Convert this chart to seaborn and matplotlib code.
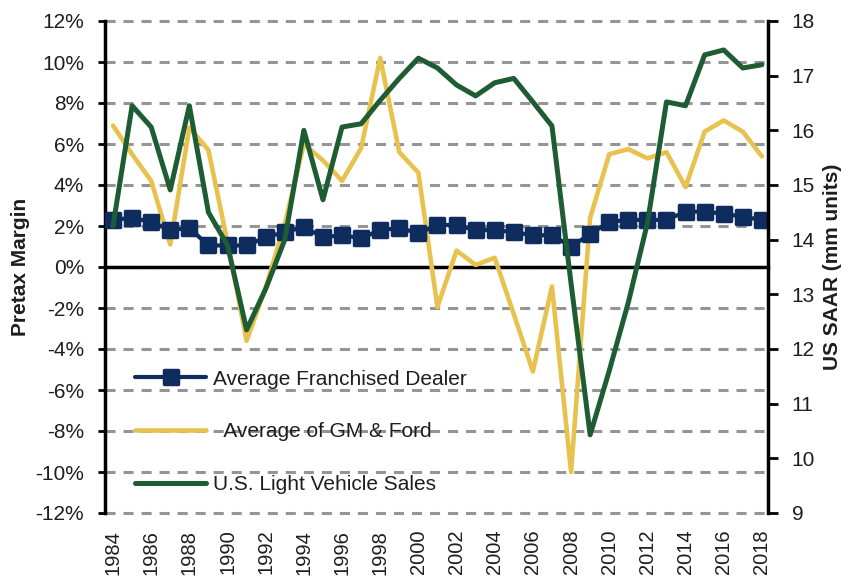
import matplotlib
matplotlib.use("Agg")
import matplotlib.pyplot as plt
import numpy as np
import pandas as pd
import seaborn as sns
from matplotlib.ticker import FuncFormatter
from matplotlib.markers import MarkerStyle

# ---------------- data ----------------
years = list(range(1984, 2019))
dealer_margin = [2.3, 2.4, 2.2, 1.8, 1.9, 1.05, 1.05, 1.05, 1.45, 1.7,
                 1.95, 1.45, 1.55, 1.4, 1.8, 1.9, 1.65, 2.05, 2.05, 1.8,
                 1.8, 1.7, 1.55, 1.55, 1.0, 1.6, 2.2, 2.3, 2.3, 2.3,
                 2.7, 2.7, 2.6, 2.45, 2.3]
gm_ford_margin = [6.9, 5.5, 4.2, 1.1, 6.8, 5.7, 1.2, -3.6, -1.0, 2.1,
                  6.0, 5.2, 4.2, 5.8, 10.2, 5.6, 4.6, -1.95, 0.8, 0.1,
                  0.45, -2.3, -5.1, -0.95, -10.0, 2.4, 5.5, 5.75, 5.3, 5.6,
                  3.9, 6.6, 7.15, 6.6, 5.4]
us_sales = [14.25, 16.45, 16.06, 14.91, 16.45, 14.5, 13.9, 12.35, 13.1, 14.0,
            16.0, 14.73, 16.06, 16.12, 16.55, 16.95, 17.32, 17.14, 16.83, 16.63,
            16.87, 16.95, 16.52, 16.08, 13.2, 10.43, 11.6, 12.85, 14.3, 16.52,
            16.45, 17.38, 17.47, 17.14, 17.2]

left_ticks = list(range(-12, 13, 2))
right_ticks = list(range(9, 19))
year_labels = list(range(1984, 2019, 2))

label_dealer = "Average Franchised Dealer"
label_gm = "  Average of GM & Ford"
label_sales = "U.S. Light Vehicle Sales"
ylabel_left = "Pretax Margin"
ylabel_right = "US SAAR (mm units)"

# ---------------- style ----------------
sns.set_style("white")
plt.rcParams['font.family'] = ['Liberation Sans', 'DejaVu Sans']
plt.rcParams['axes.unicode_minus'] = False

NAVY = '#0E2D5E'
GOLD = '#E8C24E'
GREEN = '#1E5C33'
GRID = '#959595'
TXT = '#1e1e1e'

df = pd.DataFrame({'year': years, 'dealer': dealer_margin,
                   'gm': gm_ford_margin, 'sales': us_sales})

fig = plt.figure(figsize=(8.53, 5.76), dpi=100)
ax = fig.add_axes([105/853, 1 - 513/576, 663/853, 492/576])
ax2 = ax.twinx()

sns.lineplot(data=df, x='year', y='gm', ax=ax, color=GOLD, lw=3.3,
             label=label_gm, zorder=3)
sns.lineplot(data=df, x='year', y='dealer', ax=ax, color=NAVY, lw=3,
             marker=MarkerStyle('s', joinstyle='round'), markersize=10,
             markeredgecolor=NAVY, markeredgewidth=2.5,
             label=label_dealer, zorder=4)
sns.lineplot(data=df, x='year', y='sales', ax=ax2, color=GREEN, lw=3.6,
             label=label_sales, zorder=3)

# ---------------- axes ----------------
ax.set_xlim(1983.58, 2018.32)
ax.set_ylim(-12, 12)
ax2.set_ylim(9, 18)

ax.set_yticks(left_ticks)
ax.yaxis.set_major_formatter(FuncFormatter(lambda v, p: f"{int(round(v))}%"))
ax.yaxis.grid(True, color=GRID, lw=2.2, linestyle=(0, (3.3, 2.6)))
ax.xaxis.grid(False)
for gl in ax.get_ygridlines():
    gl.set_clip_on(False)

for s in ['top', 'right']:
    ax.spines[s].set_visible(False)
ax.spines['left'].set_color('black')
ax.spines['left'].set_linewidth(2.5)
ax.spines['bottom'].set_position(('data', 0))
ax.spines['bottom'].set_color('black')
ax.spines['bottom'].set_linewidth(2.5)
ax.spines['bottom'].set_zorder(2.6)

ax.tick_params(axis='y', direction='out', length=5, width=2, color='black',
               pad=10, labelsize=15, labelcolor=TXT)
ax.set_xticks([y + 0.5 for y in years[:-1]])
ax.tick_params(axis='x', direction='out', length=5, width=1.6, color='black',
               labelbottom=False)

sec = ax.secondary_xaxis('bottom')
sec.set_xticks(year_labels, labels=[str(y) for y in year_labels])
sec.tick_params(length=0, pad=12, labelsize=14.5, labelrotation=90,
                labelcolor=TXT)
sec.spines['bottom'].set_visible(False)

for s in ['top', 'left', 'bottom']:
    ax2.spines[s].set_visible(False)
ax2.spines['right'].set_color('black')
ax2.spines['right'].set_linewidth(2.5)
ax2.set_yticks(right_ticks)
ax2.tick_params(axis='y', direction='out', length=7, width=2, color='black',
                pad=10, labelsize=15, labelcolor=TXT)
ax2.grid(False)

ax.set_xlabel('')
ax.set_ylabel(ylabel_left, fontsize=15, fontweight='bold', labelpad=4,
              color=TXT)
ax2.set_ylabel(ylabel_right, fontsize=15, fontweight='bold', labelpad=6,
               color=TXT)

# ---------------- legend ----------------
h1, l1 = ax.get_legend_handles_labels()
h2, l2 = ax2.get_legend_handles_labels()
hmap = dict(zip(l1 + l2, h1 + h2))
for a in (ax, ax2):
    if a.get_legend() is not None:
        a.get_legend().remove()
order = [label_dealer, label_gm, label_sales]
ax2.legend([hmap[k] for k in order], order, loc='center left',
           bbox_to_anchor=(0.046, 0.165), frameon=False, fontsize=15,
           handlelength=3.4, handletextpad=0.3, labelspacing=1.62,
           borderpad=0, borderaxespad=0, labelcolor=TXT)

fig.savefig('out.png', dpi=100)
